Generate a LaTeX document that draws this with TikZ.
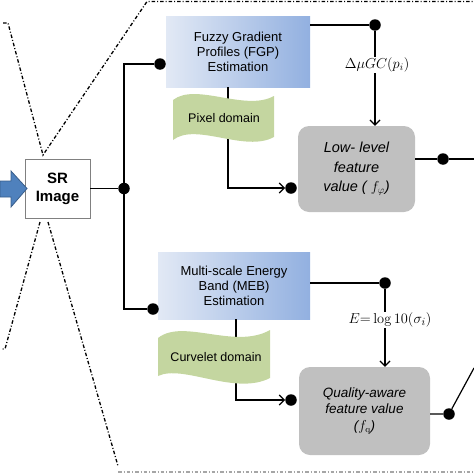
\documentclass[tikz,border=0pt]{standalone}
\usepackage[no-math]{fontspec}
\setmainfont{Liberation Sans}
\usetikzlibrary{arrows.meta}
\definecolor{estL}{RGB}{226,233,245}
\definecolor{estR}{RGB}{146,176,224}
\definecolor{featgray}{RGB}{192,192,192}
\definecolor{wavegreen}{RGB}{196,214,160}
\definecolor{arrowblue}{RGB}{79,129,189}
\definecolor{arrowdark}{RGB}{56,93,138}
\definecolor{boxgray}{RGB}{128,128,128}
\begin{document}
\begin{tikzpicture}[x=1pt,y=-1pt,
  conn/.style={line width=1.2pt,black},
  arr/.style={conn,-{Straight Barb[length=5pt,width=10pt,line width=1.2pt]}},
  jdot/.style={circle,fill=black,inner sep=0pt,minimum size=11.5pt},
  est/.style={left color=estL,right color=estR,inner sep=0pt,align=center,
    font=\fontsize{13}{15}\selectfont},
  feat/.style={fill=featgray,rounded corners=11pt,inner sep=0pt,align=center},
  wave/.style={fill=wavegreen},
  dashdot/.style={line width=1.3pt,dash pattern=on 3.5pt off 2pt on 1pt off 2pt},
  lbl/.style={inner sep=1pt}]
\useasboundingbox (0,0) rectangle (474,474);

% dash-dot frame lines
\draw[dashdot] (3,23) -- (8,23) -- (43,155) -- (147,1.5) -- (474,1.5);
\draw[dashdot] (40,222) -- (5,349) -- (1,349);
\draw[dashdot] (48,222) -- (118,466);
\draw[dashdot,black!35] (118,472) -- (474,472);

% SR image box
\node[draw=boxgray,line width=0.8pt,fill=white,minimum width=65pt,minimum height=59pt,
  inner sep=0pt,align=center,font=\fontsize{15}{18}\selectfont\bfseries]
  (SR) at (57.5,188.5) {SR\\Image};
\filldraw[fill=arrowblue,draw=arrowdark,line width=0.8pt]
  (0,181) -- (11,181) -- (11,171) -- (27,188.5) -- (11,207) -- (11,197) -- (0,197) -- cycle;

% estimation boxes
\node[est,minimum width=144pt,minimum height=71pt] (FGP) at (238,51.5)
  {Fuzzy Gradient\\Profiles (FGP)\\Estimation};
\node[est,minimum width=152pt,minimum height=67pt] (MEB) at (234,285.5)
  {Multi-scale Energy\\Band (MEB)\\Estimation};

% feature boxes
\node[feat,minimum width=117pt,minimum height=86pt,
  font=\fontsize{14.5}{19.5}\selectfont\itshape] (Low) at (356.5,169)
  {Low- level\\feature\\value ( $f_{\varphi}$)};
\node[feat,minimum width=131pt,minimum height=88pt,
  font=\fontsize{13.5}{16.5}\selectfont\itshape] (Q) at (364.5,411)
  {Quality-aware\\feature value\\($f_{\mathrm{q}}$)};

% junctions
\node[jdot] (J1) at (124,188.5) {};
\node[jdot] (D1) at (160,64) {};
\node[jdot] (D2) at (153,309) {};
\node[jdot] (D3) at (375,25) {};
\node[jdot] (D4) at (443,159) {};
\node[jdot] (D5) at (385,283) {};
\node[jdot] (D6) at (449,414) {};
\node[jdot] (D7) at (291,188) {};
\node[jdot] (D8) at (291,400) {};
\coordinate (V1) at (228,188);
\coordinate (V2) at (236,400);
\coordinate (E1) at (474,159);
\coordinate (E2) at (474,368);

% labels
\node[lbl,font=\fontsize{14}{16}\selectfont] (L1) at (377,65) {$\Delta\mu GC(p_i)$};
\node[lbl,font=\fontsize{15}{17}\selectfont] (L2) at (390,320) {$E{=}\log 10(\sigma_i)$};

% connectors
\draw[conn] (SR) -- (J1);
\draw[conn] (J1) |- (D1);
\draw[conn] (J1) |- (D2);
\draw[conn] (FGP.east |- D3) -- (D3);
\draw[conn] (D3) -- (D3 |- L1.north);
\draw[arr] (D3 |- L1.south) -- (D3 |- Low.north);
\draw[conn] (Low.east |- D4) -- (D4) -- (E1);
\draw[conn] (MEB.east |- D5) -- (D5);
\draw[conn] (D5) -- (D5 |- L2.north);
\draw[arr] (D5 |- L2.south) -- (D5 |- Q.north);
\draw[conn] (Q.east |- D6) -- (D6) -- (E2);
\draw[arr] (FGP.south -| V1) -- (V1) -- (D7);
\draw[arr] (MEB.south -| V2) -- (V2) -- (D8);

% wave labels (drawn over the vertical lines)
\path[wave] (173,100) .. controls (196,82) and (245,112) .. (274,96)
  -- (274,137) .. controls (245,153) and (196,122) .. (173,140) -- cycle;
\node[font=\fontsize{12.5}{14}\selectfont,inner sep=0pt] (PD) at (224,118) {Pixel domain};
\path[wave] (158,338) .. controls (183,318) and (235,350) .. (270,330)
  -- (270,378) .. controls (235,396) and (183,364) .. (158,376) -- cycle;
\node[font=\fontsize{12.5}{14}\selectfont,inner sep=0pt] (CD) at (216,357) {Curvelet domain};
\end{tikzpicture}
\end{document}
